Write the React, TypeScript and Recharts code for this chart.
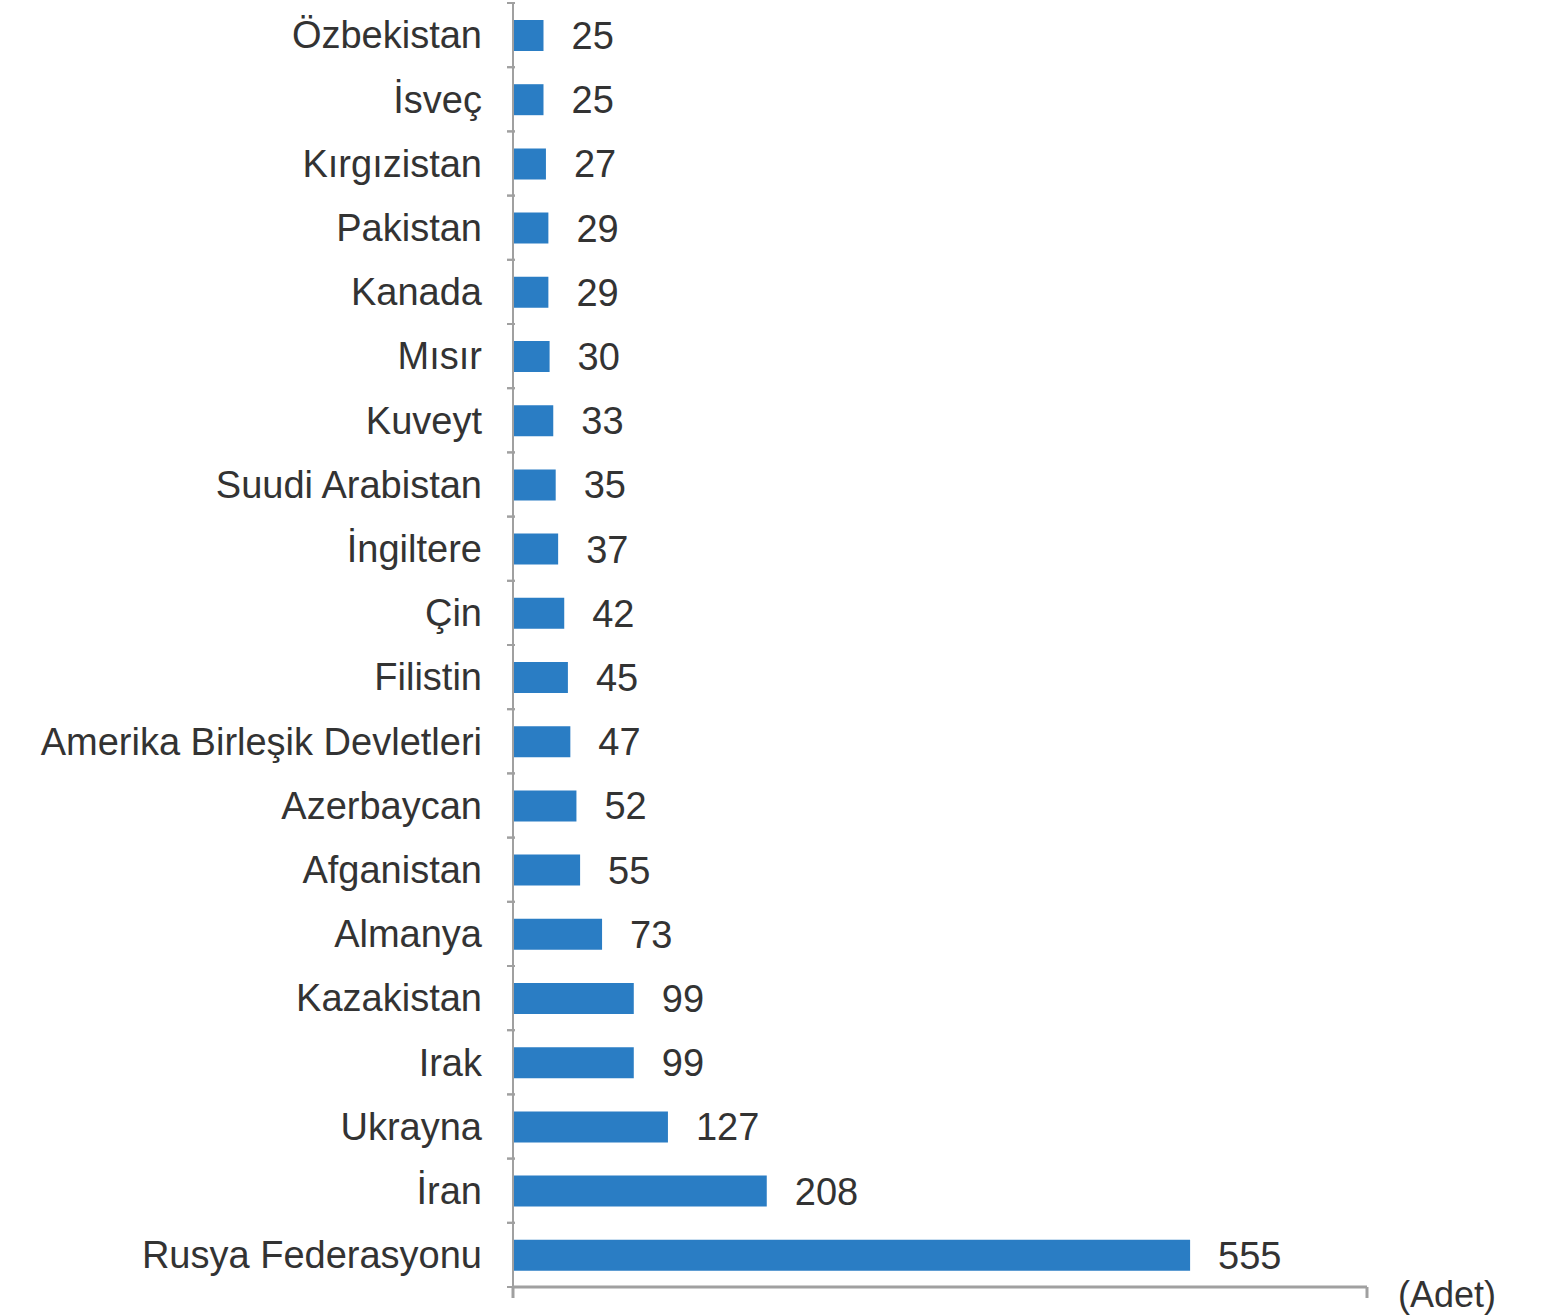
import { BarChart, Bar, XAxis, YAxis, LabelList } from "recharts";

// Ülkelere göre sayılar (yukarıdan aşağıya)
const countries = [
  "Özbekistan",
  "İsveç",
  "Kırgızistan",
  "Pakistan",
  "Kanada",
  "Mısır",
  "Kuveyt",
  "Suudi Arabistan",
  "İngiltere",
  "Çin",
  "Filistin",
  "Amerika Birleşik Devletleri",
  "Azerbaycan",
  "Afganistan",
  "Almanya",
  "Kazakistan",
  "Irak",
  "Ukrayna",
  "İran",
  "Rusya Federasyonu",
];
const counts = [25, 25, 27, 29, 29, 30, 33, 35, 37, 42, 45, 47, 52, 55, 73, 99, 99, 127, 208, 555];
const xTicks = [0, 700];
const unitLabel = "(Adet)";

const data = countries.map((name, i) => ({ name, value: counts[i] }));

const WIDTH = 1556;
const HEIGHT = 1316;
const MARGIN = { top: 3, right: 189, bottom: 0, left: 0 };
const X_AXIS_HEIGHT = 29;
const TEXT = "#333333";
const AXIS = "#a0a0a0";
const FONT = "'Liberation Sans', Arial, sans-serif";

const plotHeight = HEIGHT - MARGIN.top - MARGIN.bottom - X_AXIS_HEIGHT;
const step = plotHeight / countries.length;

function CountryTick(props: any) {
  const { x, y, payload } = props;
  return (
    <g>
      <line x1={x + 25} x2={x + 33} y1={y - step / 2} y2={y - step / 2} stroke={AXIS} strokeWidth={2} />
      <line x1={x + 25} x2={x + 33} y1={y + step / 2} y2={y + step / 2} stroke={AXIS} strokeWidth={2} />
      <text x={x} y={y} dy="0.35em" textAnchor="end" fill={TEXT} fontSize={38} fontFamily={FONT}>
        {payload.value}
      </text>
    </g>
  );
}

const EmptyTick = () => <g />;

export default function App() {
  return (
    <div style={{ position: "absolute", left: 0, top: 0, background: "#fff" }}>
      <BarChart width={WIDTH} height={HEIGHT} data={data} layout="vertical" margin={MARGIN}>
        <XAxis
          type="number"
          domain={[0, 700]}
          ticks={xTicks}
          tick={<EmptyTick />}
          tickSize={11}
          height={X_AXIS_HEIGHT}
          stroke={AXIS}
          strokeWidth={3}
          label={{
            value: unitLabel,
            position: "right",
            offset: 31,
            dy: -7,
            fill: TEXT,
            fontSize: 36,
            fontFamily: FONT,
          }}
        />
        <YAxis
          type="category"
          dataKey="name"
          width={513}
          tickLine={false}
          tickMargin={25}
          stroke={AXIS}
          strokeWidth={2}
          interval={0}
          tick={<CountryTick />}
        />
        <Bar dataKey="value" fill="#2a7dc4" barSize={31} isAnimationActive={false}>
          <LabelList
            dataKey="value"
            position="right"
            offset={28}
            fill={TEXT}
            fontSize={38}
            fontFamily={FONT}
          />
        </Bar>
      </BarChart>
    </div>
  );
}
